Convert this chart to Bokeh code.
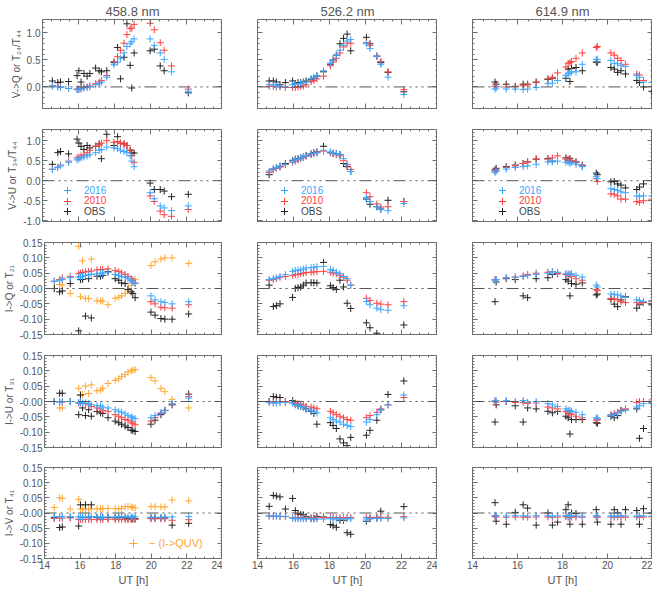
from bokeh.plotting import figure
from bokeh.models import (Range1d, FixedTicker, LinearAxis, Span, Legend, LegendItem,
                          ColumnDataSource, PrintfTickFormatter)
from bokeh.core.properties import value
from bokeh.layouts import column, row
from bokeh.embed import file_html
from bokeh.resources import INLINE

nan = float("nan")

# ---------------- data ----------------
COLUMN_TITLES = ["458.8 nm", "526.2 nm", "614.9 nm"]
ROW_LABELS = ["V->Q or T₂₄/T₄₄", "V->U or T₃₄/T₄₄", "I->Q or T₂₁", "I->U or T₃₁", "I->V or T₄₁"]
SERIES_NAMES = ["2016", "2010", "OBS"]
QUV_LABEL = "− (I->QUV)"
X_LABEL = "UT [h]"

ut_458 = [14.55, 14.85, 15.0, 15.45, 15.92, 16.02, 16.14, 16.3, 16.48, 16.63, 16.95, 17.15, 17.27, 17.57,
          17.97, 18.17, 18.33, 18.53, 18.69, 18.87, 18.96, 19.09, 19.98, 20.21, 20.54, 20.76, 21.17, 22.1]
ut_526 = [14.65, 14.88, 15.05, 15.25, 15.55, 15.95, 16.1, 16.25, 16.4, 16.55, 16.7, 16.98, 17.13, 17.3,
          17.67, 18.05, 18.2, 18.38, 18.58, 18.78, 18.98, 19.18, 20.05, 20.25, 20.63, 20.85, 21.25, 22.13]
ut_614 = [15.0, 15.05, 15.5, 15.9, 16.25, 16.45, 16.83, 17.35, 17.55, 17.78, 18.15, 18.25, 18.33, 18.4,
          18.6, 18.88, 19.5, 19.55, 20.15, 20.3, 20.45, 20.6, 20.8, 21.3, 21.42, 21.6, 21.97]

# 458.8 nm
vq_458_2016 = [0.02, 0.0, -0.01, -0.03, -0.05, -0.05, -0.04, -0.02, -0.01, 0.0, 0.04, 0.06, 0.09, 0.18,
               0.41, 0.46, 0.53, 0.63, 0.75, 0.80, 0.84, 0.89, 0.89, 0.77, 0.63, 0.51, 0.28, -0.08]
vq_458_2010 = [0.02, 0.01, 0.0, -0.03, -0.04, -0.04, -0.03, -0.01, 0.0, 0.02, 0.06, 0.09, 0.12, 0.21,
               0.47, 0.56, 0.68, 0.81, 0.97, 1.08, 1.09, 1.16, 1.18, 1.06, 0.82, 0.68, 0.39, -0.04]
vq_458_obs = [0.11, 0.08, 0.09, 0.10, 0.21, 0.30, 0.09, 0.25, 0.20, 0.25, 0.35, 0.30, 0.28, 0.30,
              0.45, 0.73, 0.15, 0.55, 1.17, 0.40, -0.02, 0.63, 0.67, 0.70, 0.39, 0.30, nan, -0.11]
vu_458_2016 = [0.28, 0.33, 0.37, 0.46, 0.52, 0.54, 0.57, 0.59, 0.62, 0.65, 0.70, 0.76, 0.78, 0.84,
               0.82, 0.80, 0.76, 0.73, 0.70, 0.62, 0.49, 0.35, -0.30, -0.45, -0.63, -0.68, -0.75, -0.63]
vu_458_2010 = [0.29, 0.34, 0.39, 0.49, 0.57, 0.59, 0.62, 0.65, 0.70, 0.76, 0.86, 0.89, 0.94, 1.00,
               0.96, 0.98, 0.94, 0.92, 0.88, 0.76, 0.63, 0.46, -0.38, -0.52, -0.76, -0.85, -0.89, -0.72]
vu_458_obs = [0.41, 0.70, 0.73, 0.67, 1.04, 0.94, 0.86, 0.78, 0.88, 0.82, 0.86, 0.92, 0.55, 1.16,
              0.88, 1.10, 0.94, 0.92, 0.88, 0.76, 0.70, 0.69, -0.06, -0.22, -0.22, -0.26, -0.40, -0.34]
iq_458_2016 = [0.023, 0.027, 0.029, 0.035, 0.037, 0.039, 0.040, 0.043, 0.045, 0.046, 0.048, 0.050, 0.050, 0.053,
               0.046, 0.043, 0.039, 0.037, 0.032, 0.027, 0.021, 0.016, -0.024, -0.037, -0.043, -0.046, -0.050, -0.043]
iq_458_2010 = [0.024, 0.029, 0.034, 0.039, 0.048, 0.050, 0.052, 0.054, 0.056, 0.057, 0.061, 0.061, 0.062, 0.064,
               0.059, 0.055, 0.051, 0.046, 0.039, 0.032, 0.027, 0.018, -0.043, -0.050, -0.061, -0.063, -0.064, -0.053]
iq_458_obs = [0.000, -0.011, -0.008, 0.016, -0.138, 0.029, 0.030, -0.090, 0.032, -0.096, 0.040, 0.040, 0.043, 0.055,
              0.032, 0.027, 0.018, 0.016, -0.003, -0.011, -0.016, -0.030, -0.077, -0.087, -0.098, -0.100, -0.100, -0.083]
iq_458_quv = [0.000, 0.013, 0.011, -0.016, 0.138, -0.027, 0.090, -0.032, -0.033, 0.096, -0.040, -0.041, -0.041, -0.053,
              -0.032, -0.029, -0.024, -0.016, -0.005, 0.010, 0.020, 0.030, 0.075, 0.087, 0.096, 0.100, 0.100, 0.082]
iu_458_2016 = [0.000, -0.002, 0.000, 0.000, -0.003, -0.002, -0.005, -0.005, -0.007, -0.011, -0.014, -0.014, -0.018, -0.021,
               -0.027, -0.032, -0.035, -0.040, -0.046, -0.050, -0.053, -0.056, -0.053, -0.046, -0.037, -0.029, -0.007, 0.011]
iu_458_2010 = [0.000, -0.001, -0.002, 0.000, -0.005, -0.005, -0.007, -0.007, -0.011, -0.016, -0.021, -0.024, -0.029, -0.032,
               -0.043, -0.048, -0.053, -0.059, -0.061, -0.067, -0.071, -0.076, -0.064, -0.053, -0.039, -0.030, -0.009, 0.016]
iu_458_obs = [0.000, 0.027, 0.027, 0.000, -0.043, 0.021, -0.021, -0.046, -0.027, -0.048, -0.033, -0.037, -0.039, -0.053,
              -0.064, -0.069, -0.074, -0.080, -0.085, -0.093, -0.095, -0.098, -0.074, -0.061, -0.043, -0.029, -0.011, 0.024]
iu_458_quv = [0.000, -0.021, -0.021, 0.000, 0.043, 0.021, 0.023, 0.050, 0.026, 0.054, 0.035, 0.037, 0.043, 0.059,
              0.069, 0.074, 0.082, 0.088, 0.096, 0.100, 0.102, 0.104, 0.078, 0.067, 0.043, 0.032, 0.007, -0.021]
iv_458_2016 = [-0.013, -0.012, -0.012, -0.012, -0.013, -0.013, -0.014, -0.013, -0.013, -0.012, -0.013, -0.013, -0.014, -0.013,
               -0.013, -0.013, -0.012, -0.013, -0.013, -0.014, -0.013, -0.013, -0.014, -0.014, -0.014, -0.013, -0.013, -0.012]
iv_458_2010 = [-0.018, -0.017, -0.017, -0.016, -0.021, -0.021, -0.022, -0.021, -0.021, -0.021, -0.022, -0.021, -0.021, -0.021,
               -0.022, -0.021, -0.021, -0.022, -0.022, -0.021, -0.021, -0.021, -0.019, -0.019, -0.019, -0.019, -0.024, -0.022]
iv_458_obs = [-0.015, -0.048, -0.046, -0.014, -0.043, 0.027, -0.015, 0.027, -0.015, 0.027, -0.015, -0.016, -0.015, -0.015,
              -0.016, -0.015, -0.015, -0.016, -0.018, -0.019, -0.019, -0.019, -0.016, -0.016, -0.016, -0.016, -0.040, -0.034]
iv_458_quv = [0.018, 0.050, 0.048, 0.013, 0.045, 0.013, 0.013, 0.013, 0.013, 0.013, 0.014, 0.014, 0.014, 0.015,
              0.014, 0.014, 0.015, 0.021, 0.021, 0.021, 0.018, 0.017, 0.021, 0.021, 0.020, 0.020, 0.043, 0.040]

# 526.2 nm
vq_526_2016 = [0.04, 0.04, 0.02, 0.01, 0.00, 0.04, 0.05, 0.06, 0.06, 0.08, 0.09, 0.15, 0.18, 0.21,
               0.30, 0.44, 0.50, 0.59, 0.68, 0.77, 0.85, 0.88, 0.80, 0.71, 0.57, 0.42, 0.18, -0.14]
vq_526_2010 = [0.01, 0.01, 0.00, 0.00, -0.01, -0.01, -0.01, 0.00, 0.01, 0.02, 0.04, 0.10, 0.12, 0.15,
               0.20, 0.39, 0.46, 0.53, 0.63, 0.74, 0.81, 0.81, 0.82, 0.77, 0.57, 0.47, 0.28, -0.05]
vq_526_obs = [0.11, 0.11, 0.09, 0.04, 0.08, 0.11, 0.06, 0.08, 0.08, 0.09, 0.11, 0.14, 0.16, 0.20,
              0.28, 0.42, 0.50, 0.59, 0.80, 0.90, 0.98, 0.67, 0.92, 0.80, 0.57, 0.45, 0.27, -0.09]
vu_526_2016 = [0.24, 0.29, 0.33, 0.37, 0.41, 0.49, 0.52, 0.54, 0.57, 0.60, 0.63, 0.67, 0.68, 0.70,
               0.76, 0.72, 0.70, 0.68, 0.66, 0.55, 0.41, 0.23, -0.42, -0.52, -0.65, -0.71, -0.75, -0.57]
vu_526_2010 = [0.21, 0.27, 0.31, 0.35, 0.40, 0.46, 0.49, 0.52, 0.55, 0.58, 0.61, 0.66, 0.68, 0.70,
               0.74, 0.70, 0.68, 0.66, 0.62, 0.50, 0.40, 0.28, -0.30, -0.40, -0.58, -0.66, -0.65, -0.52]
vu_526_obs = [0.15, 0.29, 0.33, 0.35, 0.43, 0.51, 0.54, 0.55, 0.57, 0.59, 0.63, 0.67, 0.70, 0.72,
              0.86, 0.70, 0.68, 0.67, 0.65, 0.43, 0.35, 0.23, -0.46, -0.59, -0.65, -0.71, -0.49, -0.52]
iq_526_2016 = [0.029, 0.032, 0.035, 0.039, 0.045, 0.056, 0.059, 0.060, 0.061, 0.063, 0.067, 0.068, 0.069, 0.071,
               0.072, 0.062, 0.059, 0.053, 0.048, 0.039, 0.032, 0.011, -0.043, -0.053, -0.064, -0.069, -0.071, -0.056]
iq_526_2010 = [0.027, 0.029, 0.032, 0.037, 0.039, 0.043, 0.045, 0.046, 0.048, 0.050, 0.052, 0.053, 0.054, 0.055,
               0.056, 0.053, 0.050, 0.048, 0.043, 0.037, 0.027, 0.011, -0.032, -0.039, -0.048, -0.051, -0.053, -0.043]
iq_526_obs = [0.011, -0.059, -0.056, -0.050, nan, -0.029, 0.000, 0.003, 0.005, 0.011, 0.018, 0.019, 0.019, 0.018,
              0.085, 0.009, 0.003, -0.003, 0.027, 0.005, -0.048, -0.065, -0.112, -0.128, -0.146, nan, nan, -0.119]
iu_526_2016 = [-0.003, -0.005, -0.005, -0.003, -0.003, -0.005, -0.011, -0.014, -0.016, -0.018, -0.025, -0.029, -0.032, -0.037,
               nan, -0.053, -0.059, -0.064, -0.067, -0.074, -0.078, -0.082, -0.067, -0.059, -0.043, -0.027, -0.011, 0.021]
iu_526_2010 = [0.000, -0.003, -0.002, -0.001, 0.000, -0.003, -0.005, -0.007, -0.009, -0.011, -0.016, -0.018, -0.021, -0.024,
               nan, -0.032, -0.037, -0.043, -0.048, -0.053, -0.059, -0.061, -0.053, -0.046, -0.035, -0.024, -0.011, 0.013]
iu_526_obs = [0.000, 0.016, 0.014, 0.013, 0.000, 0.003, -0.008, -0.014, -0.016, -0.018, -0.024, -0.032, -0.039, -0.074,
              nan, -0.069, -0.078, -0.088, -0.122, -0.135, -0.144, -0.117, -0.110, -0.094, -0.061, -0.027, 0.023, 0.067]
iv_526_2016 = [-0.009, -0.010, -0.010, -0.011, -0.011, -0.017, -0.019, -0.019, -0.019, -0.019, -0.019, -0.020, -0.020, -0.020,
               -0.020, -0.019, -0.019, -0.020, -0.019, -0.019, -0.019, -0.019, -0.020, -0.018, -0.018, -0.018, -0.018, -0.016]
iv_526_2010 = [-0.010, -0.011, -0.011, -0.012, -0.012, -0.016, -0.016, -0.016, -0.016, -0.016, -0.017, -0.017, -0.017, -0.016,
               -0.016, -0.015, -0.015, -0.016, -0.015, -0.015, -0.015, -0.015, -0.014, -0.015, -0.014, -0.014, -0.014, -0.012]
iv_526_obs = [0.022, 0.058, 0.056, 0.053, 0.013, 0.048, 0.008, -0.003, -0.005, -0.006, -0.012, -0.017, -0.018, -0.011,
              -0.013, -0.038, -0.042, -0.047, -0.024, -0.024, -0.065, -0.070, -0.027, -0.019, -0.017, 0.006, nan, 0.021]

# 614.9 nm
vq_614_2016 = [-0.04, -0.02, -0.04, -0.04, -0.05, -0.04, -0.01, 0.06, 0.07, 0.12, 0.21, 0.24, 0.26, 0.28,
               0.28, 0.42, 0.51, 0.51, 0.49, 0.44, 0.43, 0.40, 0.38, 0.21, 0.18, 0.09, 0.08]
vq_614_2010 = [0.01, 0.01, 0.00, 0.01, 0.02, 0.04, 0.08, 0.15, 0.18, 0.26, 0.37, 0.44, 0.45, 0.47,
               0.53, 0.63, 0.73, 0.75, 0.63, 0.59, 0.53, 0.49, 0.42, 0.24, 0.22, 0.12, 0.01]
vq_614_obs = [0.09, 0.05, 0.05, 0.01, 0.05, 0.05, 0.09, 0.14, 0.16, nan, 0.16, 0.33, 0.10, 0.34,
              0.36, 0.30, 0.46, 0.46, 0.36, 0.33, 0.27, 0.30, 0.24, 0.12, 0.08, 0.00, -0.08]
vu_614_2016 = [0.21, 0.24, 0.29, 0.33, 0.35, 0.37, 0.41, 0.47, 0.47, 0.49, 0.46, 0.46, 0.43, 0.46,
               0.41, 0.35, 0.11, 0.05, -0.20, -0.22, -0.24, -0.28, -0.30, -0.38, -0.39, -0.38, -0.38]
vu_614_2010 = [0.24, 0.26, 0.33, 0.37, 0.43, 0.47, 0.54, 0.54, 0.57, 0.62, 0.54, 0.54, 0.51, 0.49,
               0.46, 0.37, 0.06, -0.02, -0.33, -0.34, -0.38, -0.46, -0.46, -0.52, -0.54, -0.50, -0.46]
vu_614_obs = [0.27, 0.31, 0.35, 0.39, 0.43, 0.47, 0.54, 0.55, 0.49, nan, 0.57, 0.51, 0.55, 0.49,
              0.47, 0.39, 0.19, 0.15, -0.03, -0.02, -0.08, -0.11, -0.18, -0.22, -0.16, -0.08, nan]
iq_614_2016 = [0.027, 0.029, 0.035, 0.037, 0.039, 0.043, 0.046, 0.050, 0.054, 0.053, 0.048, 0.048, 0.046, 0.048,
               0.043, 0.037, 0.011, 0.005, -0.018, -0.019, -0.021, -0.024, -0.029, -0.037, -0.039, -0.043, -0.039]
iq_614_2010 = [0.029, 0.029, 0.034, 0.037, 0.041, 0.046, 0.050, 0.053, 0.055, 0.050, 0.046, 0.043, 0.046, 0.039,
               0.032, 0.027, -0.003, -0.007, -0.032, -0.033, -0.037, -0.043, -0.046, -0.046, -0.048, -0.045, -0.043]
iq_614_obs = [-0.043, 0.021, 0.032, 0.029, -0.024, -0.030, 0.032, 0.035, 0.046, 0.048, 0.029, 0.024, -0.024, 0.016,
              0.014, 0.018, -0.021, -0.018, -0.035, -0.051, -0.059, -0.037, -0.027, -0.064, -0.053, -0.046, -0.053]
iu_614_2016 = [0.003, 0.002, 0.003, 0.000, 0.003, -0.003, 0.000, -0.007, -0.011, -0.016, -0.024, -0.029, -0.029, -0.032,
               -0.035, -0.043, -0.053, -0.055, -0.046, -0.043, -0.037, -0.032, -0.027, -0.018, -0.014, -0.007, -0.003]
iu_614_2010 = [0.000, -0.002, 0.000, -0.003, -0.003, -0.007, -0.005, -0.018, -0.021, -0.024, -0.032, -0.037, -0.039, -0.043,
               -0.048, -0.053, -0.061, -0.059, -0.043, -0.039, -0.035, -0.029, -0.024, -0.003, 0.000, 0.000, 0.005]
iu_614_obs = [-0.067, -0.011, 0.000, -0.014, -0.067, -0.021, -0.024, -0.032, -0.037, -0.032, -0.048, -0.053, -0.106, -0.059,
              -0.059, -0.059, -0.069, -0.071, -0.048, -0.053, -0.046, -0.029, -0.027, -0.024, -0.120, -0.088, -0.005]
iv_614_2016 = [-0.008, -0.009, -0.010, -0.009, -0.010, -0.010, -0.009, -0.009, -0.010, -0.010, -0.009, -0.010, -0.010, -0.009,
               -0.010, -0.010, -0.009, -0.010, -0.010, -0.010, -0.010, -0.009, -0.010, -0.010, -0.009, -0.010, -0.010]
iv_614_2010 = [-0.012, -0.013, -0.014, -0.013, -0.013, -0.014, -0.013, -0.013, -0.014, -0.013, -0.012, -0.014, -0.014, -0.013,
               -0.013, -0.014, -0.013, -0.014, -0.013, -0.014, -0.013, -0.013, -0.014, -0.013, -0.014, -0.013, -0.013]
iv_614_obs = [0.034, -0.027, -0.037, 0.002, 0.027, 0.016, -0.040, 0.000, -0.040, -0.030, 0.011, 0.027, -0.037, 0.000,
              -0.002, -0.037, 0.011, -0.030, -0.037, 0.011, 0.000, -0.037, 0.011, 0.008, -0.037, 0.014, 0.000]

UT = [ut_458, ut_526, ut_614]
DATA = [
    [(vq_458_2016, vq_458_2010, vq_458_obs, None),
     (vq_526_2016, vq_526_2010, vq_526_obs, None),
     (vq_614_2016, vq_614_2010, vq_614_obs, None)],
    [(vu_458_2016, vu_458_2010, vu_458_obs, None),
     (vu_526_2016, vu_526_2010, vu_526_obs, None),
     (vu_614_2016, vu_614_2010, vu_614_obs, None)],
    [(iq_458_2016, iq_458_2010, iq_458_obs, iq_458_quv),
     (iq_526_2016, iq_526_2010, iq_526_obs, None),
     (iq_614_2016, iq_614_2010, iq_614_obs, None)],
    [(iu_458_2016, iu_458_2010, iu_458_obs, iu_458_quv),
     (iu_526_2016, iu_526_2010, iu_526_obs, None),
     (iu_614_2016, iu_614_2010, iu_614_obs, None)],
    [(iv_458_2016, iv_458_2010, iv_458_obs, iv_458_quv),
     (iv_526_2016, iv_526_2010, iv_526_obs, None),
     (iv_614_2016, iv_614_2010, iv_614_obs, None)],
]

# ---------------- style ----------------
FONT = "Liberation Sans"
TXT = "#555555"
FRAME = "#6e6e6e"
C2016 = "#3aa6ff"
C2010 = "#ff4040"
COBS = "#222222"
CQUV = "#ffa733"

X_MAX = [24, 24, 22]
X_MAJOR = [14, 16, 18, 20, 22, 24]
X_MINOR = [14 + 0.5 * i for i in range(21)]

small_major = [-0.15, -0.10, -0.05, 0, 0.05, 0.10, 0.15]
small_minor = [round(-0.15 + 0.01 * i, 3) for i in range(31)]
Y_RANGE = [(-0.40, 1.25), (-1.02, 1.28), (-0.15, 0.15), (-0.15, 0.15), (-0.15, 0.15)]
Y_MAJOR = [[0, 0.5, 1.0], [-1.0, -0.5, 0, 0.5, 1.0], small_major, small_major, small_major]
Y_MINOR = [[round(-0.4 + 0.1 * i, 2) for i in range(17)],
           [round(-1.0 + 0.1 * i, 2) for i in range(23)],
           small_minor, small_minor, small_minor]
Y_FMT = ["%.1f", "%.1f", "%.2f", "%.2f", "%.2f"]

FRAME_W, FRAME_H = 180, 92
COL_LEFT = [42, 35, 35]
ROW_TOP = [16, 11, 11, 11, 10]
ROW_BOTTOM = [10, 10, 10, 10, 29]
KEY_X = [25, 27, 30]


def base_axis(ax):
    ax.axis_line_color = None
    ax.major_tick_out = 0
    ax.minor_tick_out = 0
    ax.major_tick_line_color = FRAME
    ax.minor_tick_line_color = FRAME


def labeled_axis(ax, majors, minors):
    base_axis(ax)
    ax.ticker = FixedTicker(ticks=majors, minor_ticks=minors)
    ax.major_tick_in = 5
    ax.minor_tick_in = 2
    ax.major_label_text_font = FONT
    ax.major_label_text_color = TXT
    ax.major_label_text_font_size = "10px"
    ax.major_label_standoff = 2


def tick_axis(ax, positions, length):
    # an axis that carries only tick marks (no labels, takes no border space)
    base_axis(ax)
    ax.ticker = FixedTicker(ticks=[], minor_ticks=positions)
    ax.major_tick_in = 0
    ax.minor_tick_in = length
    ax.major_label_standoff = 0
    ax.axis_label_standoff = 0


def label_axis(ax, text, size):
    ax.axis_label = text
    ax.axis_label_text_font = FONT
    ax.axis_label_text_font_size = size
    ax.axis_label_text_font_style = "normal"
    ax.axis_label_text_color = TXT
    ax.axis_label_standoff = 2


def add_key(p, renderer, label, color, cx, cy, box=18, standoff=8, size="10px"):
    leg = Legend(items=[LegendItem(label=value(label), renderers=[renderer])],
                 location=(cx - box / 2, cy - box / 2), border_line_color=None,
                 background_fill_alpha=0, padding=0, margin=0, spacing=0,
                 glyph_width=box, glyph_height=box, label_height=box, label_width=10,
                 label_standoff=standoff, label_text_font=FONT,
                 label_text_font_size=size, label_text_color=color)
    p.add_layout(leg)


rows = []
for r in range(5):
    cells = []
    for c in range(3):
        w = COL_LEFT[c] + FRAME_W
        h = ROW_TOP[r] + FRAME_H + ROW_BOTTOM[r]
        p = figure(width=w, height=h, output_backend="svg", toolbar_location=None,
                   x_range=Range1d(14, X_MAX[c]), y_range=Range1d(*Y_RANGE[r]),
                   min_border_left=COL_LEFT[c], min_border_right=0,
                   min_border_top=ROW_TOP[r], min_border_bottom=ROW_BOTTOM[r])
        p.xgrid.visible = False
        p.ygrid.visible = False
        p.outline_line_color = FRAME
        p.outline_line_width = 1
        p.background_fill_color = "white"
        p.border_fill_color = "white"

        xmaj = [t for t in X_MAJOR if t <= X_MAX[c]]
        xmin = [t for t in X_MINOR if t <= X_MAX[c]]
        ymaj, ymin = Y_MAJOR[r], Y_MINOR[r]

        bottom_ax = p.below[0]
        left_ax = p.left[0]
        if r == 4:
            labeled_axis(bottom_ax, xmaj, xmin)
            label_axis(bottom_ax, X_LABEL, "11px")
        else:
            tick_axis(bottom_ax, xmaj, 5)
            extra = LinearAxis()
            tick_axis(extra, xmin, 2)
            p.add_layout(extra, "below")
        if c == 0:
            labeled_axis(left_ax, ymaj, ymin)
            left_ax.formatter = PrintfTickFormatter(format=Y_FMT[r])
            if r >= 2:
                left_ax.major_label_overrides = {0: "-0.00"}
            label_axis(left_ax, ROW_LABELS[r], "10px")
        else:
            tick_axis(left_ax, ymaj, 5)
            extra = LinearAxis()
            tick_axis(extra, ymin, 2)
            p.add_layout(extra, "left")
        for side, maj, mnr in (("above", xmaj, xmin), ("right", ymaj, ymin)):
            a1 = LinearAxis()
            tick_axis(a1, maj, 5)
            a2 = LinearAxis()
            tick_axis(a2, mnr, 2)
            p.add_layout(a1, side)
            p.add_layout(a2, side)

        if r == 0:
            p.title.text = COLUMN_TITLES[c]
            p.title.align = "center"
            p.title.text_font = FONT
            p.title.text_font_size = "13px"
            p.title.text_font_style = "normal"
            p.title.text_color = TXT
            p.title.standoff = 2

        p.add_layout(Span(location=0, dimension="width", line_color="#555555",
                          line_width=1, line_dash="12 4 2 4 2 4 2 4"))

        b16, b10, obs, quv = DATA[r][c]
        data = dict(x=UT[c], s2016=b16, s2010=b10, obs=obs)
        if quv is not None:
            data["quv"] = quv
        src = ColumnDataSource(data)
        rq = None
        if quv is not None:
            rq = p.scatter("x", "quv", source=src, marker="cross", size=7, line_color=CQUV, line_width=1)
        ro = p.scatter("x", "obs", source=src, marker="cross", size=7, line_color=COBS, line_width=1)
        r10 = p.scatter("x", "s2010", source=src, marker="cross", size=7, line_color=C2010, line_width=1)
        r16 = p.scatter("x", "s2016", source=src, marker="cross", size=7, line_color=C2016, line_width=1)

        if r == 1:
            kx = KEY_X[c]
            add_key(p, r16, SERIES_NAMES[0], C2016, kx, 31)
            add_key(p, r10, SERIES_NAMES[1], C2010, kx, 20.5)
            add_key(p, ro, SERIES_NAMES[2], "#444444", kx, 10)
        if r == 4 and rq is not None:
            add_key(p, rq, QUV_LABEL, CQUV, 89, 15, box=22, standoff=5, size="11px")
        cells.append(p)
    rows.append(row(*cells))

layout = column(*rows)
open("out.html", "w").write(file_html(layout, INLINE))
